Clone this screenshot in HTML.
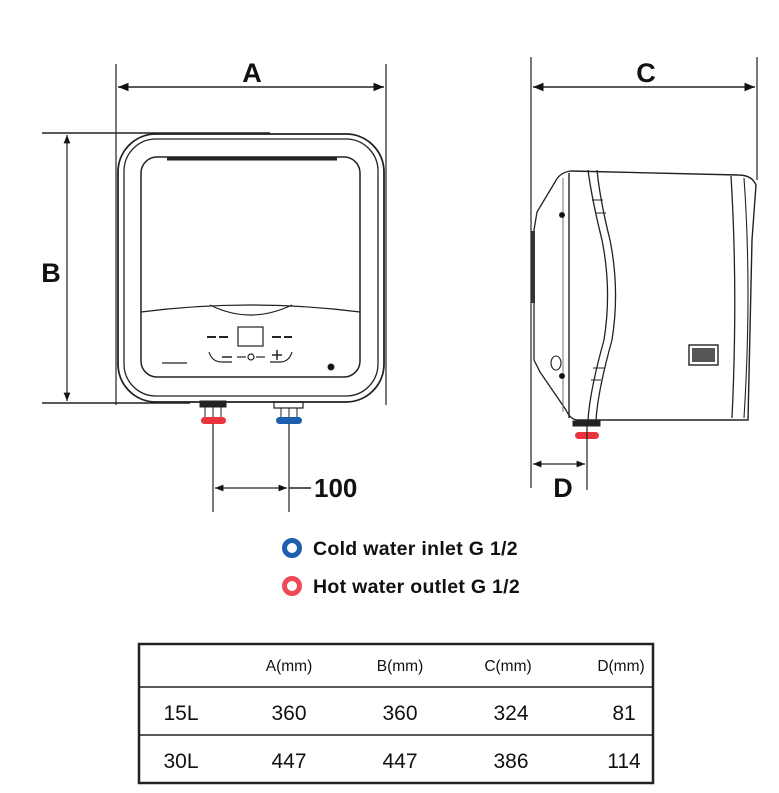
<!DOCTYPE html>
<html><head><meta charset="utf-8"><style>
html,body{margin:0;padding:0;background:#fff;}
svg{display:block}
text{font-family:"Liberation Sans",sans-serif;fill:#111}
</style></head><body>
<svg width="779" height="793" viewBox="0 0 779 793" xmlns="http://www.w3.org/2000/svg">
<defs>
<marker id="ar" viewBox="0 0 10 10" refX="10" refY="5" markerWidth="7" markerHeight="7" orient="auto-start-reverse"><path d="M0,1 L10,5 L0,9 z" fill="#111"/></marker>
</defs>
<g stroke="#222" fill="none">
<line x1="116" y1="64" x2="116" y2="405" stroke-width="1.2"/>
<line x1="386" y1="64" x2="386" y2="405" stroke-width="1.2"/>
<line x1="118" y1="87" x2="384" y2="87" stroke-width="1.5" marker-start="url(#ar)" marker-end="url(#ar)"/>
<line x1="531" y1="57" x2="531" y2="488" stroke-width="1.2"/>
<line x1="757" y1="57" x2="757" y2="180" stroke-width="1.2"/>
<line x1="533" y1="87" x2="755" y2="87" stroke-width="1.5" marker-start="url(#ar)" marker-end="url(#ar)"/>
<line x1="42" y1="133" x2="270" y2="133" stroke-width="1.5"/>
<line x1="42" y1="403" x2="190" y2="403" stroke-width="1.5"/>
<line x1="67" y1="135" x2="67" y2="401" stroke-width="1.2" marker-start="url(#ar)" marker-end="url(#ar)"/>
<rect x="118" y="134" width="266" height="268" rx="38" stroke-width="1.8"/>
<rect x="124" y="139" width="254" height="257" rx="32" stroke-width="1.3"/>
<rect x="141" y="157" width="219" height="220" rx="16" stroke-width="1.5"/>
<line x1="167" y1="159" x2="337" y2="159" stroke-width="3"/>
<path d="M141,312 Q250,298 360,312" stroke-width="1.2"/>
<path d="M210,305 Q250,325 292,305" stroke-width="1.2"/>
<rect x="238" y="327" width="25" height="19" stroke-width="1.2"/>
<line x1="207" y1="337" x2="229" y2="337" stroke-width="2" stroke-dasharray="9,3"/>
<line x1="272" y1="337" x2="292" y2="337" stroke-width="2" stroke-dasharray="9,3"/>
<path d="M209,352 Q212,362 222,362 L232,362" stroke-width="1.2"/>
<path d="M292,352 Q289,362 280,362 L270,362" stroke-width="1.2"/>
<line x1="222" y1="357" x2="232" y2="357" stroke-width="1.5"/>
<line x1="237" y1="357" x2="246" y2="357" stroke-width="1.2"/>
<circle cx="251" cy="357" r="3" stroke-width="1.2"/>
<line x1="256" y1="357" x2="265" y2="357" stroke-width="1.2"/>
<line x1="272" y1="355" x2="282" y2="355" stroke-width="1.5"/>
<line x1="277" y1="350" x2="277" y2="360" stroke-width="1.5"/>
<line x1="162" y1="363" x2="187" y2="363" stroke-width="1.2"/>
<circle cx="331" cy="367" r="3" fill="#111"/>
<rect x="200" y="401" width="26" height="6" fill="#222"/>
<rect x="274" y="402" width="29" height="6" stroke-width="1.2"/>
<line x1="205" y1="407" x2="205" y2="418" stroke-width="1"/><line x1="213" y1="407" x2="213" y2="418" stroke-width="1"/><line x1="221" y1="407" x2="221" y2="418" stroke-width="1"/>
<line x1="281" y1="408" x2="281" y2="418" stroke-width="1"/><line x1="289" y1="408" x2="289" y2="418" stroke-width="1"/><line x1="297" y1="408" x2="297" y2="418" stroke-width="1"/>
<rect x="201" y="417" width="25" height="7" rx="3.5" fill="#e8343d" stroke="none"/>
<rect x="276" y="417" width="26" height="7" rx="3.5" fill="#1b5fae" stroke="none"/>
<line x1="213" y1="424" x2="213" y2="512" stroke-width="1.2"/>
<line x1="289" y1="424" x2="289" y2="512" stroke-width="1.2"/>
<line x1="215" y1="488" x2="287" y2="488" stroke-width="1.2" marker-start="url(#ar)" marker-end="url(#ar)"/>
<line x1="289" y1="488" x2="311" y2="488" stroke-width="1.5"/>
<path d="M571,171 Q560,172 555,182 L537,212 L534,230 L534,360 L540,372 L566,410 Q570,419 577,420" stroke-width="1.3"/>
<rect x="531" y="231" width="4" height="72" fill="#333" stroke="none"/>
<line x1="563" y1="178" x2="563" y2="412" stroke-width="0.9" stroke="#666"/>
<line x1="569" y1="173" x2="569" y2="418" stroke-width="1.4"/>
<path d="M571,171 L738,175 Q752,175 756,185 L752,240 L750,330 L748,420 L577,420" stroke-width="1.4"/>
<path d="M588,170 Q592,200 602,240 Q612,290 604,340 Q590,390 588,420" stroke-width="1.3"/>
<path d="M597,170 Q600,200 610,240 Q620,290 612,340 Q598,390 596,420" stroke-width="1.3"/>
<line x1="592" y1="200" x2="603" y2="200" stroke-width="1"/><line x1="596" y1="213" x2="606" y2="213" stroke-width="1"/>
<line x1="593" y1="368" x2="604" y2="368" stroke-width="1"/><line x1="591" y1="380" x2="601" y2="380" stroke-width="1"/>
<path d="M731,176 Q738,290 732,418" stroke-width="1.3"/>
<path d="M744,178 Q752,290 744,418" stroke-width="1.1"/>
<circle cx="562" cy="215" r="2.5" fill="#111"/>
<circle cx="562" cy="376" r="2.5" fill="#111"/>
<ellipse cx="556" cy="363" rx="5" ry="7" stroke-width="1.1"/>
<rect x="689" y="345" width="29" height="20" stroke-width="1.4"/>
<rect x="692" y="348" width="23" height="14" fill="#555" stroke="none"/>
<rect x="573" y="421" width="27" height="5" fill="#222"/>
<rect x="575" y="432" width="24" height="7" rx="3.5" fill="#e8343d" stroke="none"/>
<line x1="587" y1="426" x2="587" y2="490" stroke-width="1.2"/>
<line x1="533" y1="464" x2="585" y2="464" stroke-width="1.2" marker-start="url(#ar)" marker-end="url(#ar)"/>
</g>
<text x="252" y="82" font-size="27" font-weight="bold" text-anchor="middle">A</text>
<text x="646" y="82" font-size="27" font-weight="bold" text-anchor="middle">C</text>
<text x="51" y="282" font-size="27" font-weight="bold" text-anchor="middle">B</text>
<text x="563" y="497" font-size="27" font-weight="bold" text-anchor="middle">D</text>
<text x="314" y="497" font-size="26" font-weight="bold">100</text>
<circle cx="292" cy="548" r="7.5" fill="none" stroke="#1b5fae" stroke-width="5"/>
<circle cx="292" cy="586" r="7.5" fill="none" stroke="#ee4a55" stroke-width="5"/>
<text x="313" y="555" font-size="19.5" font-weight="bold" letter-spacing="0.3" fill="#222">Cold water inlet G 1/2</text>
<text x="313" y="593" font-size="19.5" font-weight="bold" letter-spacing="0.3" fill="#222">Hot water outlet G 1/2</text>
<g stroke="#222" fill="none">
<rect x="139" y="644" width="514" height="139" stroke-width="2.5"/>
<line x1="139" y1="687" x2="653" y2="687" stroke-width="1.5"/>
<line x1="139" y1="735" x2="653" y2="735" stroke-width="1.5"/>
</g>
<g font-size="15.5" text-anchor="middle">
<text x="289" y="671">A(mm)</text><text x="400" y="671">B(mm)</text><text x="508" y="671">C(mm)</text><text x="621" y="671">D(mm)</text>
</g>
<g font-size="21" text-anchor="middle">
<text x="181" y="720">15L</text><text x="289" y="720">360</text><text x="400" y="720">360</text><text x="511" y="720">324</text><text x="624" y="720">81</text>
<text x="181" y="768">30L</text><text x="289" y="768">447</text><text x="400" y="768">447</text><text x="511" y="768">386</text><text x="624" y="768">114</text>
</g>
</svg>
</body></html>
